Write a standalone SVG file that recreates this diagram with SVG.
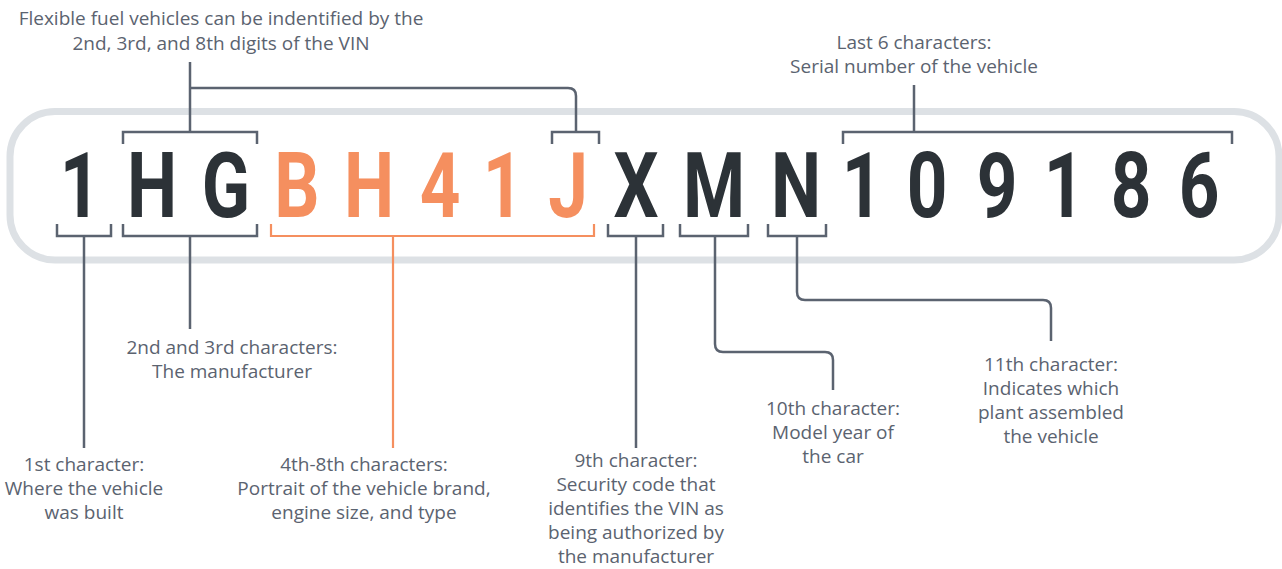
<svg xmlns="http://www.w3.org/2000/svg" width="1282" height="569" viewBox="0 0 1282 569">
<style>
.lbl{font-family:"Open Sans","Noto Sans","Liberation Sans",sans-serif;font-size:19px;fill:#5b6370;text-anchor:middle}
.big{font-family:Roboto,"Liberation Sans",sans-serif;font-weight:700;font-size:91px;text-anchor:middle}
.dk{fill:#2c3237}
.or{fill:#f58f5f}
.ln{fill:none;stroke:#5b6370;stroke-width:2.5}
.lo{fill:none;stroke:#f58f5f;stroke-width:2.2}
</style>
<rect id="frame" x="10" y="111.5" width="1269" height="148.5" rx="45" fill="#fff" stroke="#dde1e5" stroke-width="7"/>
<g id="vin">
<text class="big dk" transform="translate(80 217) scale(0.78 1)">1</text>
<text class="big dk" transform="translate(152 217) scale(0.78 1)">H</text>
<text class="big dk" transform="translate(226 217) scale(0.78 1)">G</text>
<text class="big or" transform="translate(297 217) scale(0.78 1)">B</text>
<text class="big or" transform="translate(369 217) scale(0.78 1)">H</text>
<text class="big or" transform="translate(440 217) scale(0.78 1)">4</text>
<text class="big or" transform="translate(503 217) scale(0.78 1)">1</text>
<text class="big or" transform="translate(568 217) scale(0.78 1)">J</text>
<text class="big dk" transform="translate(636 217) scale(0.78 1)">X</text>
<text class="big dk" transform="translate(714 217) scale(0.78 1)">M</text>
<text class="big dk" transform="translate(796 217) scale(0.78 1)">N</text>
<text class="big dk" transform="translate(862 217) scale(0.78 1)">1</text>
<text class="big dk" transform="translate(927 217) scale(0.78 1)">0</text>
<text class="big dk" transform="translate(997 217) scale(0.78 1)">9</text>
<text class="big dk" transform="translate(1064 217) scale(0.78 1)">1</text>
<text class="big dk" transform="translate(1131 217) scale(0.78 1)">8</text>
<text class="big dk" transform="translate(1199 217) scale(0.78 1)">6</text>
</g>
<g id="connectors">
<path class="ln" d="M123 144V132H257V144"/>
<path class="ln" d="M552 144V132H599V144"/>
<path class="ln" d="M190 62V132M190 88H568Q576 88 576 96V132"/>
<path class="ln" d="M843 144V132H1232V144M914 85V132"/>
<path class="ln" d="M57 224V236H111V224M84 236V448"/>
<path class="ln" d="M123 224V236H257V224M190 236V329"/>
<path class="lo" d="M271 224V236H594V224M393 236V448"/>
<path class="ln" d="M608 224V236H663V224M636 236V448"/>
<path class="ln" d="M680 224V236H748V224M715 236V344Q715 352 723 352H825Q833 352 833 360V390"/>
<path class="ln" d="M768 224V236H826V224M797 236V292Q797 300 805 300H1043Q1051 300 1051 308V341"/>
</g>
<g id="label-flex">
<text class="lbl" x="221" y="25">Flexible fuel vehicles can be indentified by the</text>
<text class="lbl" x="221" y="50">2nd, 3rd, and 8th digits of the VIN</text>
</g>
<g id="label-last6">
<text class="lbl" x="914" y="49">Last 6 characters:</text>
<text class="lbl" x="914" y="73">Serial number of the vehicle</text>
</g>
<g id="label-1st">
<text class="lbl" x="84" y="471">1st character:</text>
<text class="lbl" x="84" y="495">Where the vehicle</text>
<text class="lbl" x="84" y="519">was built</text>
</g>
<g id="label-2nd3rd">
<text class="lbl" x="232" y="354">2nd and 3rd characters:</text>
<text class="lbl" x="232" y="378">The manufacturer</text>
</g>
<g id="label-4th8th">
<text class="lbl" x="364" y="471">4th-8th characters:</text>
<text class="lbl" x="364" y="495">Portrait of the vehicle brand,</text>
<text class="lbl" x="364" y="519">engine size, and type</text>
</g>
<g id="label-9th">
<text class="lbl" x="636" y="467">9th character:</text>
<text class="lbl" x="636" y="491">Security code that</text>
<text class="lbl" x="636" y="515">identifies the VIN as</text>
<text class="lbl" x="636" y="539">being authorized by</text>
<text class="lbl" x="636" y="563">the manufacturer</text>
</g>
<g id="label-10th">
<text class="lbl" x="833" y="415">10th character:</text>
<text class="lbl" x="833" y="439">Model year of</text>
<text class="lbl" x="833" y="463">the car</text>
</g>
<g id="label-11th">
<text class="lbl" x="1051" y="371">11th character:</text>
<text class="lbl" x="1051" y="395">Indicates which</text>
<text class="lbl" x="1051" y="419">plant assembled</text>
<text class="lbl" x="1051" y="443">the vehicle</text>
</g>
</svg>
